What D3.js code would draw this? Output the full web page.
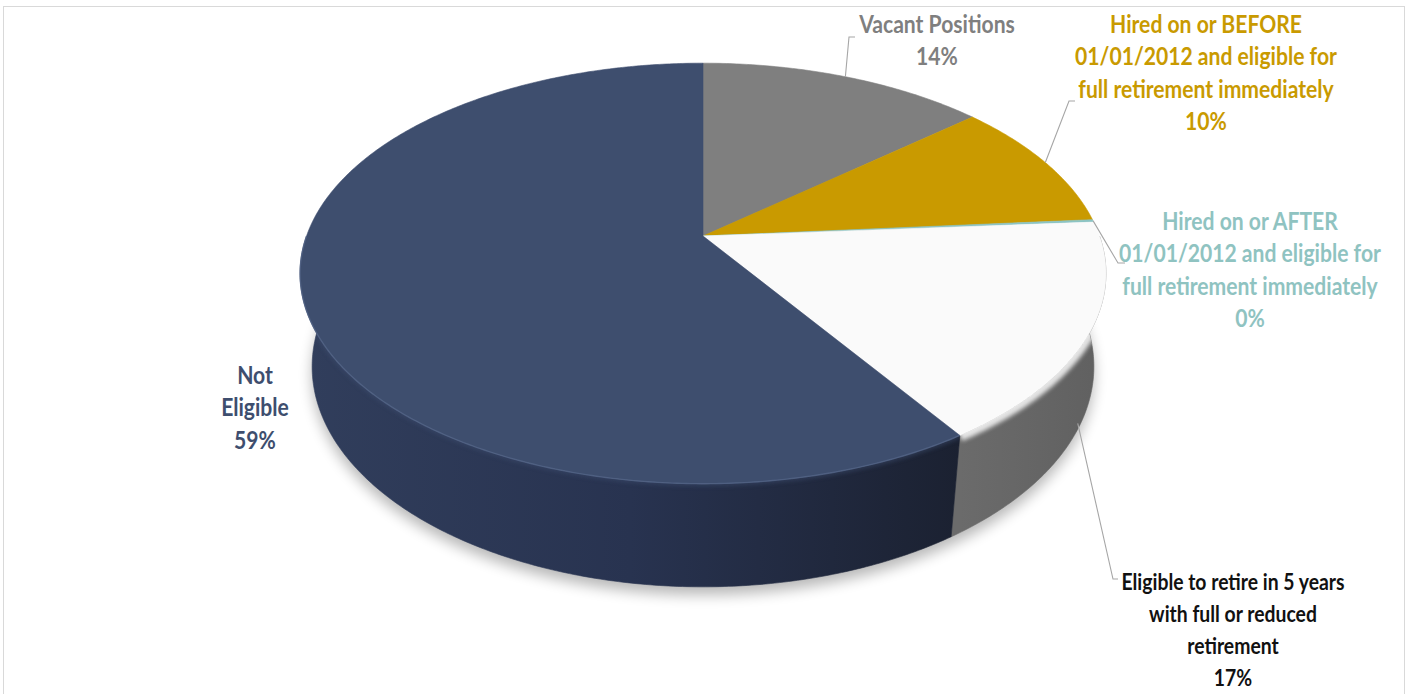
<!DOCTYPE html>
<html>
<head>
<meta charset="utf-8">
<script src="https://cdn.jsdelivr.net/npm/d3@7"></script>
<style>
  html, body { margin: 0; padding: 0; background: #ffffff; }
  svg { display: block; }
  text { font-family: "Lato", "Open Sans", sans-serif; font-weight: 700; }
</style>
</head>
<body>
<svg id="chart" width="1409" height="694"></svg>
<script>
// ---- data ----
const categories = [
  "Vacant Positions",
  "Hired on or BEFORE 01/01/2012 and eligible for full retirement immediately",
  "Hired on or AFTER 01/01/2012 and eligible for full retirement immediately",
  "Eligible to retire in 5 years with full or reduced retirement",
  "Not Eligible"
];
const values = [13.7, 10.0, 0.2, 16.8, 59.3];
const labelLines = [
  ["Vacant Positions"],
  ["Hired on or BEFORE", "01/01/2012 and eligible for", "full retirement immediately"],
  ["Hired on or AFTER", "01/01/2012 and eligible for", "full retirement immediately"],
  ["Eligible to retire in 5 years", "with full or reduced", "retirement"],
  ["Not", "Eligible"]
];

// ---- styles ----
const topColors   = ["#7f7f7f", "#c99a00", "#8cc4c4", "#fafafa", "#3e4e6e"];
const sideColors  = ["#6e6e6e", "#a98100", "#74a8a8", "#676767", "#2c3852"];
const textColors  = ["#7f7f7f", "#c99a00", "#8fc3c1", "#111111", "#3e4e6e"];

// ---- layout ----
const W = 1409, H = 694;
const origin = [703, 236];          // apex of the top face on screen
const tilt = 30.9 * Math.PI / 180;  // camera elevation
const camDist = 4.82;               // camera distance in pie radii
const focal = 1911;                 // focal length in px
const thickness = 0.28;             // slab height in pie radii
const textSqueeze = 0.88;           // narrow the label face horizontally
const labelLayout = [
  { x: 937,  y: 33,  size: 24, lh: 32.5, elbow: [849, 37],   tick: [855, 37],   depth: 0 },
  { x: 1206, y: 33,  size: 24, lh: 32.5, elbow: [1069, 101], tick: [1075, 101], depth: 0 },
  { x: 1250, y: 230, size: 24, lh: 32.5, elbow: [1118, 263], tick: [1125, 263], depth: 0 },
  { x: 1233, y: 590, size: 22, lh: 32,   elbow: [1113, 579], tick: [1118, 579], depth: 0.92 },
  { x: 255,  y: 384, size: 24, lh: 32.5, elbow: null, tick: null, depth: 0 }
];

const sinT = Math.sin(tilt), cosT = Math.cos(tilt);
// angle a: clockwise from the back (12 o'clock); y: height (0 = top face, negative = below)
function project(a, y, r = 1) {
  const X = r * Math.sin(a), Z = r * Math.cos(a);
  const yc = Z * sinT + y * cosT;
  const dep = camDist + Z * cosT - y * sinT;
  return [origin[0] + focal * X / dep, origin[1] - focal * yc / dep];
}
function arcPoints(a0, a1, y) {
  const n = Math.max(2, Math.ceil(Math.abs(a1 - a0) / 0.01));
  return d3.range(n + 1).map(i => project(a0 + (a1 - a0) * i / n, y));
}

const data = categories.map((c, i) => ({ name: c, value: values[i], idx: i }));
const total = d3.sum(values);
const pct = d3.format(".0%");
const arcs = d3.pie().sort(null).value(d => d.value).startAngle(0).endAngle(2 * Math.PI)(data);

const svg = d3.select("#chart");
const defs = svg.append("defs");
defs.append("filter").attr("id", "shadowBlur")
  .attr("x", "-20%").attr("y", "-30%").attr("width", "140%").attr("height", "160%")
  .append("feGaussianBlur").attr("stdDeviation", 7);
defs.append("filter").attr("id", "soft")
  .attr("x", "-10%").attr("y", "-10%").attr("width", "120%").attr("height", "120%")
  .append("feGaussianBlur").attr("stdDeviation", 2.2);

const navyGrad = defs.append("linearGradient").attr("id", "navySide")
  .attr("gradientUnits", "userSpaceOnUse").attr("x1", 300).attr("x2", 960).attr("y1", 0).attr("y2", 0);
navyGrad.append("stop").attr("offset", 0).attr("stop-color", "#313e5c");
navyGrad.append("stop").attr("offset", 0.5).attr("stop-color", "#283350");
navyGrad.append("stop").attr("offset", 1).attr("stop-color", "#1b2131");
const graySide = defs.append("linearGradient").attr("id", "graySide")
  .attr("gradientUnits", "userSpaceOnUse").attr("x1", 960).attr("x2", 1105).attr("y1", 0).attr("y2", 0);
graySide.append("stop").attr("offset", 0).attr("stop-color", "#6b6b6b");
graySide.append("stop").attr("offset", 1).attr("stop-color", "#606060");

const line = d3.line();

// frame
svg.append("rect").attr("x", 3.5).attr("y", 6.5).attr("width", 1401).attr("height", 700)
  .attr("fill", "none").attr("stroke", "#d9d9d9").attr("stroke-width", 1);

// drop shadow under the slab
const shadowPts = arcPoints(0, 2 * Math.PI, -thickness).map(p => [p[0], p[1] + 8]);
svg.append("path").attr("d", line(shadowPts) + "Z")
  .attr("fill", "#000").attr("opacity", 0.28).attr("filter", "url(#shadowBlur)");

// side walls (front half only)
const sideFill = i => i === 4 ? "url(#navySide)" : i === 3 ? "url(#graySide)" : sideColors[i];
const front0 = Math.PI / 2, front1 = 3 * Math.PI / 2;
const sides = svg.append("g");
arcs.forEach(d => {
  const a0 = Math.max(d.startAngle, front0), a1 = Math.min(d.endAngle, front1);
  if (a1 <= a0) return;
  const top = arcPoints(a0, a1, 0);
  const bot = arcPoints(a1, a0, -thickness);
  const shape = line(top.concat(bot)) + "Z";
  const cid = "side" + d.data.idx;
  defs.append("clipPath").attr("id", cid).append("path").attr("d", shape);
  sides.append("path").attr("d", shape).attr("fill", sideFill(d.data.idx))
    .attr("stroke", sideFill(d.data.idx)).attr("stroke-width", 0.6);
  // soft bevel where the top face rolls into the wall
  sides.append("path").attr("d", line(arcPoints(a0, a1, 0)))
    .attr("fill", "none").attr("stroke", topColors[d.data.idx])
    .attr("stroke-width", d.data.idx === 3 ? 12 : 5)
    .attr("opacity", d.data.idx === 3 ? 0.85 : 0.55)
    .attr("filter", "url(#soft)").attr("clip-path", `url(#${cid})`);
});

// top faces
const tops = svg.append("g");
arcs.forEach(d => {
  const pts = [origin].concat(arcPoints(d.startAngle, d.endAngle, 0));
  tops.append("path").attr("d", line(pts) + "Z")
    .attr("fill", topColors[d.data.idx])
    .attr("stroke", topColors[d.data.idx]).attr("stroke-width", 0.6)
    .attr("stroke-linejoin", "round");
});
// faint highlight on the front rim of the navy top
{
  const d = arcs[4];
  const a0 = Math.max(d.startAngle, front0), a1 = Math.min(d.endAngle, front1);
  tops.append("path").attr("d", line(arcPoints(a0, a1, 0)))
    .attr("fill", "none").attr("stroke", "#5a6c90").attr("stroke-width", 1.4)
    .attr("opacity", 0.6);
}

// leader lines
const leaders = svg.append("g");
arcs.forEach(d => {
  const L = labelLayout[d.data.idx];
  if (!L.elbow) return;
  const mid = (d.startAngle + d.endAngle) / 2;
  const start = project(mid, -L.depth * thickness);
  leaders.append("path").attr("d", line([start, L.elbow, L.tick]))
    .attr("fill", "none").attr("stroke", "#a6a6a6").attr("stroke-width", 1.1);
});

// labels
const labels = svg.append("g");
arcs.forEach(d => {
  const i = d.data.idx, L = labelLayout[i];
  const lines = labelLines[i].concat([pct(d.data.value / total)]);
  const t = labels.append("text").attr("text-anchor", "middle")
    .attr("transform", `translate(${L.x},0) scale(${textSqueeze},1)`)
    .attr("fill", textColors[i]).attr("font-size", L.size);
  lines.forEach((s, k) => {
    t.append("tspan").attr("x", 0).attr("y", L.y + k * L.lh).text(s);
  });
});
</script>
</body>
</html>
